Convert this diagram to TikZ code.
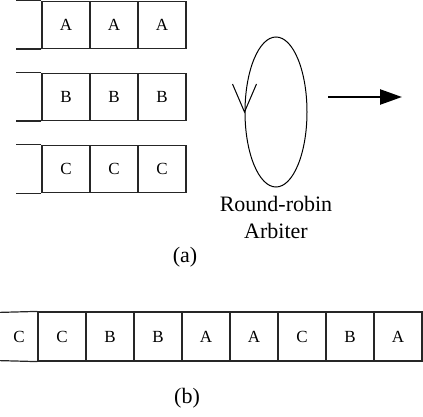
\documentclass[tikz,border=0pt]{standalone}
\usepackage{fontspec}
\setmainfont{Liberation Serif}
\usetikzlibrary{positioning,arrows.meta,shapes.geometric,calc}
\tikzset{
  cell/.style={draw=black!85,line width=0.6pt,minimum width=24pt,minimum height=23.5pt,
              inner sep=0pt,font=\fontsize{8.5}{9}\selectfont},
  opencell/.style={cell,draw=none},
  qline/.style={draw=black!85,line width=0.6pt},
  arbiter/.style={draw,ellipse,line width=0.5pt,minimum width=31pt,minimum height=75pt,inner sep=0pt},
  caption/.style={font=\fontsize{11}{13.5}\selectfont,align=center},
  outarrow/.style={-{Triangle[length=11pt,width=7.5pt]},line width=1.2pt},
}
\begin{document}
\begin{tikzpicture}[x=0.5pt,y=-0.5pt]
  \useasboundingbox (0,0) rectangle (423,417);
  % input queues
  \foreach \r/\l/\y in {a/A/25,b/B/97,c/C/169} {
    \foreach \i/\x in {1/66,2/114,3/162}
      \node[cell] (\r\i) at (\x,\y) {\l};
    \draw[qline] (\r1.north west) -- ++(-25,0);
    \draw[qline] (\r1.south west) -- ++(-25,0);
  }
  % arbiter
  \node[arbiter] (arb) at (276,112) {};
  \draw[line width=0.5pt] ($(arb.west)+(-12,-28)$) -- (arb.west) -- ($(arb.west)+(12,-28)$);
  \node[caption,below=1pt of arb] (arblabel) {Round-robin\\Arbiter};
  \coordinate (outstart) at (328,97);
  \coordinate (outend) at (402,97);
  \draw[outarrow] (outstart) -- (outend);
  \node[caption] (capa) at (185,257) {(a)};
  % output sequence
  \node[opencell,minimum width=19pt] (s1) at (19,336.5) {C};
  \foreach \i/\l in {2/C,3/B,4/B,5/A,6/A,7/C,8/B,9/A}
    \node[cell,minimum height=24.5pt] (s\i) at ({62+48*(\i-2)},336.5) {\l};
  \draw[qline] (s1.north west) -- (s2.north west);
  \draw[qline] (s1.south west) -- (s2.south west);
  \node[caption] (capb) at (187,398) {(b)};
\end{tikzpicture}
\end{document}
